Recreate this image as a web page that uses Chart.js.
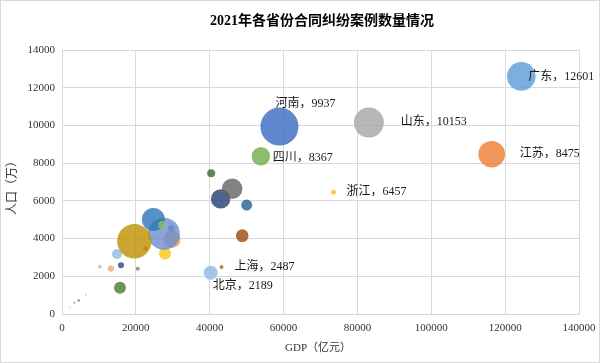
<!DOCTYPE html>
<html>
<head>
<meta charset="utf-8">
<script src="https://cdn.jsdelivr.net/npm/chart.js@4/dist/chart.umd.min.js"></script>
<style>
html,body{margin:0;padding:0;background:#fff;}
#wrap{width:600px;height:363px;}
</style>
</head>
<body>
<div id="wrap"><canvas id="c" width="600" height="363"></canvas></div>
<script>
// ---- data ----
const provinces = ['陕西','江西','北京','天津','河北','山西','内蒙古','吉林','黑龙江','上海','江苏','浙江','安徽','福建','山东','河南','湖北','湖南','广东','海南','重庆','四川','西藏','甘肃','青海','宁夏','新疆','辽宁','广西','云南','贵州'];
const gdp = [29801,29620,40270,15695,40391,22590,20514,13236,14879,43215,116364,73516,42959,48810,83096,58887,50013,46063,124370,6475,27894,53851,2080,10243,3346,4522,15983,27584,24741,27147,19586];
const population = [3953,4519,2189,1387,7461,3492,2405,2407,3185,2487,8475,6457,6103,4154,10153,9937,5775,6644,12601,1008,3205,8367,365,2502,592,720,2585,4259,5013,4721,3856];
const cases = [7200,1200,4900,3600,1600,600,400,1000,2500,400,17700,600,9400,4000,22500,36100,3000,10600,20400,100,3600,8500,30,400,100,150,900,25600,13200,1600,29600];
const labelled = ['广东','河南','山东','江苏','浙江','四川','上海','北京'];
const xTicks = [0,20000,40000,60000,80000,100000,120000,140000];
const yTicks = [0,2000,4000,6000,8000,10000,12000,14000];

// ---- styles ----
const colors = {
 '陕西':'rgba(244,160,110,0.9)','江西':'rgba(95,120,190,0.8)','北京':'rgba(157,195,230,0.95)','天津':'rgba(84,130,53,0.85)',
 '河北':'rgba(67,104,43,0.8)','山西':'rgba(191,144,0,0.85)','内蒙古':'rgba(127,127,127,0.8)','吉林':'rgba(244,177,131,0.9)',
 '黑龙江':'rgba(157,195,230,0.9)','上海':'rgba(153,115,0,0.8)','江苏':'rgba(237,125,49,0.8)','浙江':'rgba(255,192,0,0.8)',
 '安徽':'rgba(38,68,120,0.82)','福建':'rgba(158,72,14,0.8)','山东':'rgba(165,165,165,0.8)','河南':'rgba(68,114,196,0.85)',
 '湖北':'rgba(37,94,145,0.8)','湖南':'rgba(99,99,99,0.8)','广东':'rgba(91,155,213,0.8)','海南':'rgba(200,220,120,0.8)',
 '重庆':'rgba(255,192,0,0.75)','四川':'rgba(112,173,71,0.8)','西藏':'rgba(112,173,71,0.8)','甘肃':'rgba(191,191,191,0.8)',
 '青海':'rgba(112,173,71,0.8)','宁夏':'rgba(68,114,196,0.8)','新疆':'rgba(47,85,151,0.85)','辽宁':'rgba(105,142,208,0.8)',
 '广西':'rgba(46,117,182,0.8)','云南':'rgba(140,193,104,0.8)','贵州':'rgba(191,144,0,0.8)'
};
const labelOffsets = {'广东':[7,0],'河南':[-4,-23],'山东':[32,-1],'江苏':[28,0],'浙江':[13,0],'四川':[12,2],'上海':[13,0],'北京':[2,13]};
const FONT = "'Liberation Serif','Noto Sans CJK SC',serif";
const radiusOf = v => Math.sqrt(v) * 0.1;

const points = provinces.map((p,i)=>({x:gdp[i], y:population[i], r:radiusOf(cases[i]), name:p}));

const decor = {
  id:'decor',
  afterDatasetsDraw(chart){
    const ctx = chart.ctx, xs = chart.scales.x, ys = chart.scales.y;
    ctx.save();
    ctx.fillStyle = '#1a1a1a';
    ctx.font = "12px " + FONT;
    ctx.textAlign = 'left'; ctx.textBaseline = 'middle';
    labelled.forEach(p=>{
      const i = provinces.indexOf(p);
      const px = xs.getPixelForValue(gdp[i]), py = ys.getPixelForValue(population[i]);
      const o = labelOffsets[p];
      ctx.fillText(p + '，' + population[i], px + o[0], py + o[1]);
    });
    ctx.restore();
  },
  afterDraw(chart){
    const ctx = chart.ctx;
    ctx.save();
    ctx.fillStyle = '#000';
    ctx.font = "bold 14px " + FONT;
    ctx.textAlign = 'center'; ctx.textBaseline = 'middle';
    ctx.fillText('2021年各省份合同纠纷案例数量情况', 322, 21);
    ctx.fillStyle = '#333';
    ctx.font = "11px " + FONT;
    ctx.fillText('GDP（亿元）', 318, 348);
    ctx.font = "12px " + FONT;
    ctx.translate(13, 185); ctx.rotate(-Math.PI/2);
    ctx.fillText('人口（万）', 0, 0);
    ctx.restore();
    ctx.save();
    ctx.strokeStyle = '#D9D9D9'; ctx.lineWidth = 1;
    ctx.strokeRect(0.5,0.5,599,362);
    ctx.restore();
  }
};

new Chart(document.getElementById('c'), {
  type:'bubble',
  data:{ datasets:[{ data:points, backgroundColor:provinces.map(p=>colors[p]), borderWidth:0, hoverBorderWidth:0 }] },
  options:{
    responsive:false, animation:false, events:[],
    layout:{ padding:{top:50,right:21,left:0,bottom:0} },
    plugins:{ legend:{display:false}, tooltip:{enabled:false}, title:{display:false} },
    scales:{
      x:{ type:'linear', min:0, max:140000,
          afterBuildTicks(s){ s.ticks = xTicks.map(v=>({value:v})); },
          afterFit(s){ s.height = 49; s.paddingLeft = 0; s.paddingRight = 0; },
          grid:{ color:'#D9D9D9', drawTicks:false },
          border:{ color:'#D9D9D9' },
          ticks:{ padding:8, color:'#333', font:{family:FONT,size:11}, maxRotation:0, autoSkip:false, callback:v=>String(v) }
      },
      y:{ type:'linear', min:0, max:14000,
          afterBuildTicks(s){ s.ticks = yTicks.map(v=>({value:v})); },
          afterFit(s){ s.width = 62; s.paddingTop = 0; s.paddingBottom = 0; },
          grid:{ color:'#D9D9D9', drawTicks:false },
          border:{ color:'#D9D9D9' },
          ticks:{ padding:7, color:'#333', font:{family:FONT,size:11}, callback:v=>String(v) }
      }
    }
  },
  plugins:[decor]
});
</script>
</body>
</html>
